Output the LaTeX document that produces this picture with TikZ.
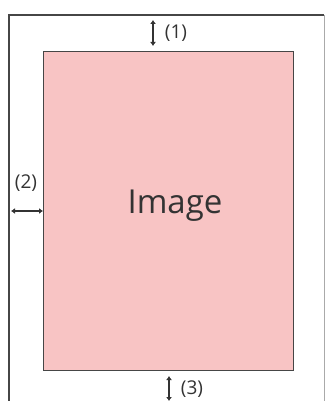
\documentclass[tikz,border=0pt]{standalone}
\usepackage{fontspec}
\setmainfont{Open Sans}
\usetikzlibrary{arrows.meta}
\definecolor{imgpink}{RGB}{248,196,196}
\definecolor{framegray}{RGB}{70,70,70}
\definecolor{edgegray}{RGB}{170,170,170}
\tikzset{
  dim/.style={line width=1.5pt, {Latex[length=4pt,width=6pt]}-{Latex[length=4pt,width=6pt]}, black!80},
  lbl/.style={font=\fontsize{19}{22}\selectfont, text=black!80, inner sep=0pt},
}
\begin{document}
\begin{tikzpicture}[x=1pt,y=-1pt]
\useasboundingbox (0,0) rectangle (326,401);
% outer page frame
\draw[framegray, line width=1.8pt] (9,401) -- (9,15) -- (324,15);
\draw[edgegray, line width=1pt] (324,15) -- (324,401);
% image area
\node[draw=framegray, line width=1.2pt, fill=imgpink, minimum width=250pt, minimum height=319pt, inner sep=0pt, anchor=north west] (img) at (43,51) {};
\node[font=\fontsize{33}{38}\selectfont, text=black!80] (imgtxt) at (175,206) {Image};
% dimension markers
\coordinate (a1t) at (153,20);
\coordinate (a1b) at (153,46);
\draw[dim] (a1t) -- (a1b);
\node[lbl] (l1) at (176,33) {(1)};
\coordinate (a2l) at (11,211);
\coordinate (a2r) at (43,211);
\draw[dim] (a2l) -- (a2r);
\node[lbl] (l2) at (26,183) {(2)};
\coordinate (a3t) at (169,376);
\coordinate (a3b) at (169,401);
\draw[dim] (a3t) -- (a3b);
\node[lbl] (l3) at (192,389) {(3)};
\end{tikzpicture}
\end{document}
